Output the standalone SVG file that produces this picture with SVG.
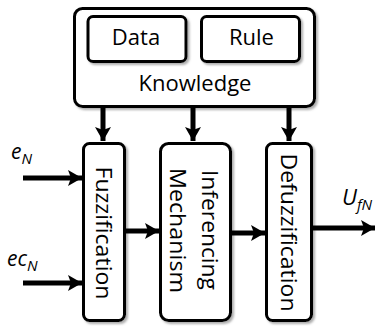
<svg xmlns="http://www.w3.org/2000/svg" width="376" height="326" viewBox="0 0 376 326">
  <style>
    .box { fill: #ffffff; stroke: #000000; stroke-width: 3; filter: url(#shadow); }
    .lbl { font-family: "Open Sans", "Liberation Sans", sans-serif; font-size: 22px; fill: #000000; }
    .var { font-family: "Open Sans", "Liberation Sans", sans-serif; font-style: italic; fill: #000000; }
    .wire { stroke: #000000; stroke-width: 5; fill: none; marker-end: url(#head); }
  </style>
  <defs>
    <filter id="shadow" x="-10%" y="-10%" width="130%" height="130%">
      <feDropShadow dx="2" dy="2" stdDeviation="1" flood-color="#777777" flood-opacity="0.6"/>
    </filter>
    <marker id="head" markerUnits="userSpaceOnUse" markerWidth="16" markerHeight="18" refX="14" refY="9" orient="auto">
      <polygon points="0,1 14,9 0,17 3,9" fill="#000000"/>
    </marker>
  </defs>
  <rect width="376" height="326" fill="#ffffff"/>

  <!-- knowledge base -->
  <g id="knowledge">
    <rect class="box" x="74.5" y="8.5" width="240" height="98" rx="8"/>
    <text class="lbl" x="195" y="91" text-anchor="middle">Knowledge</text>
  </g>
  <g id="data">
    <rect class="box" x="88" y="16.5" width="98" height="45" rx="5"/>
    <text class="lbl" x="136" y="45" text-anchor="middle">Data</text>
  </g>
  <g id="rule">
    <rect class="box" x="201.5" y="16.5" width="98" height="45" rx="5"/>
    <text class="lbl" x="251.5" y="45" text-anchor="middle">Rule</text>
  </g>

  <!-- processing stages -->
  <g id="fuzzification">
    <rect class="box" x="83.5" y="143.5" width="41" height="177" rx="6"/>
    <text class="lbl" transform="translate(96,233) rotate(90)" text-anchor="middle" textLength="133" lengthAdjust="spacingAndGlyphs">Fuzzification</text>
  </g>
  <g id="inferencing">
    <rect class="box" x="160.5" y="143.5" width="70" height="177" rx="8"/>
    <text class="lbl" transform="translate(202,230) rotate(90)" text-anchor="middle" textLength="120" lengthAdjust="spacingAndGlyphs">Inferencing</text>
    <text class="lbl" transform="translate(169.5,230.5) rotate(90)" text-anchor="middle" textLength="125" lengthAdjust="spacingAndGlyphs">Mechanism</text>
  </g>
  <g id="defuzzification">
    <rect class="box" x="266.5" y="143.5" width="45" height="177" rx="6"/>
    <text class="lbl" transform="translate(281,232.5) rotate(90)" text-anchor="middle" textLength="158" lengthAdjust="spacingAndGlyphs">Defuzzification</text>
  </g>

  <!-- signal labels -->
  <g id="labels">
    <text class="var" x="11" y="159" font-size="21">e<tspan font-size="15" dy="5">N</tspan></text>
    <text class="var" x="7" y="266" font-size="21">ec<tspan font-size="15" dy="5">N</tspan></text>
    <text class="var" x="342" y="205" font-size="22">U<tspan font-size="15" dy="5">fN</tspan></text>
  </g>

  <!-- connectors -->
  <g id="connectors">
    <line class="wire" x1="103" y1="108" x2="103" y2="141"/>
    <line class="wire" x1="193" y1="108" x2="193" y2="141"/>
    <line class="wire" x1="289" y1="108" x2="289" y2="141"/>
    <line class="wire" x1="23" y1="178" x2="82" y2="178"/>
    <line class="wire" x1="23" y1="283" x2="82" y2="283"/>
    <line class="wire" x1="126" y1="231" x2="159" y2="231"/>
    <line class="wire" x1="232" y1="233" x2="265" y2="233"/>
    <line class="wire" x1="313" y1="228" x2="375" y2="228"/>
  </g>
</svg>
